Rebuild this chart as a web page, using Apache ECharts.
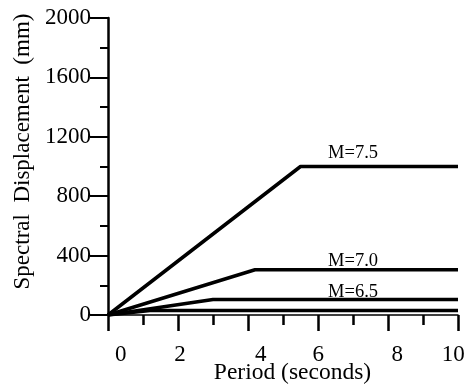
<!DOCTYPE html>
<html>
<head>
<meta charset="utf-8">
<script src="https://cdn.jsdelivr.net/npm/echarts@6/dist/echarts.min.js"></script>
<style>html,body{margin:0;padding:0;background:#fff}#c{width:470px;height:392px}</style>
</head>
<body>
<div id="c"></div>
<script>
// ---- data ----
const magnitudes = ['M=7.5', 'M=7.0', 'M=6.5', 'M=6.0'];
const cornerPeriod = [5.5, 4.2, 3.0, 1.2];       // seconds
const plateauDisp = [1000, 305, 104, 30];        // mm
const labelled = [true, true, true, false];
const startPeriod = 0;
const endPeriod = 10;
const labelPeriod = 7;
const xTickValues = [0, 2, 4, 6, 8, 10];
const yTickValues = [0, 400, 800, 1200, 1600, 2000];
const xName = 'Period (seconds)';
const yName = 'Spectral  Displacement  (mm)';

// ---- styling / layout ----
const FONT = "'Liberation Serif', 'Times New Roman', serif";
const labelNudge = [12.7, 2, 12.7, 0.3, 9.3, -4.7];  // px shift of x tick labels
const labelDy = [-13, -9, -7, 0];

const rich = {};
xTickValues.forEach((v, i) => {
  const d = labelNudge[i];
  rich['t' + i] = {
    fontFamily: FONT, fontSize: 23, color: '#000',
    padding: d >= 0 ? [0, 0, 0, 2 * d] : [0, -2 * d, 0, 0]
  };
});

const series = magnitudes.map((m, i) => {
  const s = {
    name: m,
    type: 'line',
    symbol: 'none',
    animation: false,
    lineStyle: { color: '#000', width: 3.5 },
    data: [[startPeriod, 0], [cornerPeriod[i], plateauDisp[i]], [endPeriod, plateauDisp[i]]],
    z: 3
  };
  if (labelled[i]) {
    s.markPoint = {
      symbol: 'circle', symbolSize: 0, animation: false,
      data: [{ coord: [labelPeriod, plateauDisp[i]] }],
      label: {
        show: true, position: 'inside', offset: [0, labelDy[i]],
        formatter: m, fontFamily: FONT, fontSize: 18.5, color: '#000'
      }
    };
  }
  return s;
});

const chart = echarts.init(document.getElementById('c'), null, { renderer: 'canvas' });
chart.setOption({
  animation: false,
  backgroundColor: '#fff',
  grid: { left: 108, right: 12, top: 18, bottom: 77, containLabel: false, outerBoundsMode: 'none' },
  xAxis: {
    type: 'value', min: xTickValues[0], max: xTickValues[xTickValues.length - 1], interval: 2,
    name: xName, nameLocation: 'middle', nameGap: 46, nameMoveOverlap: false,
    nameTextStyle: { fontFamily: FONT, fontSize: 23.5, color: '#000', padding: [0, 0, 0, 19] },
    axisLine: { show: true, onZero: false, lineStyle: { color: '#000', width: 1.5 } },
    axisTick: { show: true, inside: false, length: 16, lineStyle: { color: '#000', width: 2.5 } },
    minorTick: { show: true, splitNumber: 2, length: 10, lineStyle: { color: '#000', width: 2.5 } },
    splitLine: { show: false },
    axisLabel: {
      margin: 28, color: '#000', fontFamily: FONT, fontSize: 23,
      formatter: (v) => { const i = xTickValues.indexOf(v); return '{t' + i + '|' + v + '}'; },
      rich: rich
    }
  },
  yAxis: {
    type: 'value', min: yTickValues[0], max: yTickValues[yTickValues.length - 1], interval: 400,
    name: yName, nameLocation: 'middle', nameGap: 74, nameRotate: 90, nameMoveOverlap: false,
    nameTextStyle: { fontFamily: FONT, fontSize: 23, color: '#000', padding: [0, 0, 0, 30] },
    axisLine: { show: true, lineStyle: { color: '#000', width: 2.5 } },
    axisTick: { show: true, inside: false, length: 18, lineStyle: { color: '#000', width: 2 } },
    minorTick: { show: true, splitNumber: 2, length: 8, lineStyle: { color: '#000', width: 2 } },
    splitLine: { show: false },
    axisLabel: { margin: 17, color: '#000', fontFamily: FONT, fontSize: 23, formatter: (v) => String(v) }
  },
  series: series
});
</script>
</body>
</html>
